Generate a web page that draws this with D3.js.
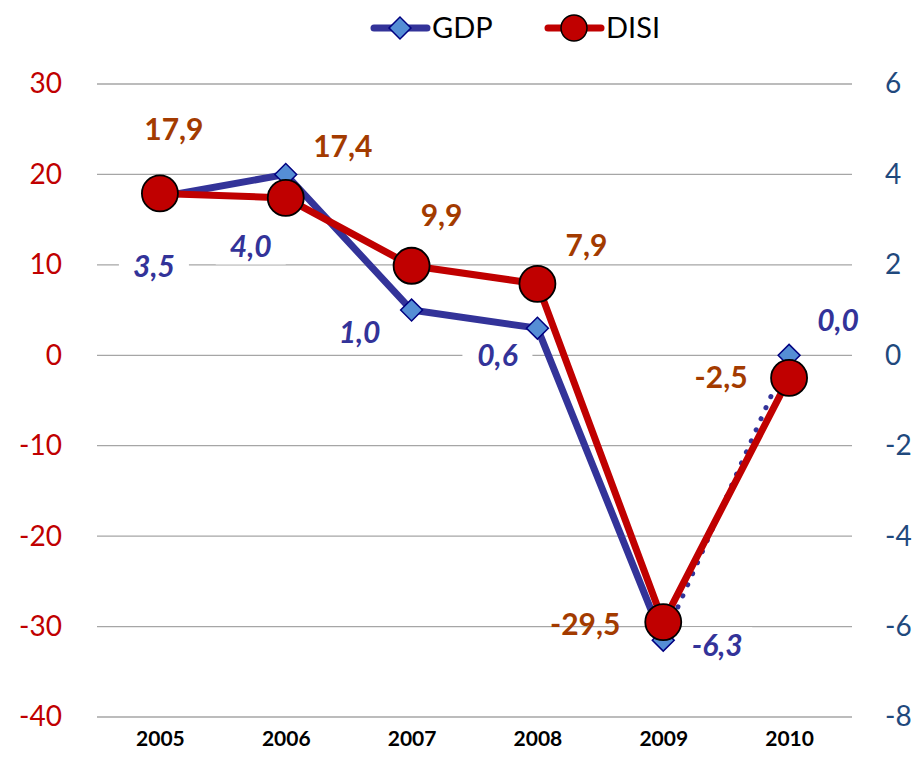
<!DOCTYPE html>
<html>
<head>
<meta charset="utf-8">
<script src="https://cdn.jsdelivr.net/npm/d3@7"></script>
<style>
  body { margin: 0; background: #fff; }
  text { font-family: Lato, "Liberation Sans", sans-serif; }
</style>
</head>
<body>
<script>
// data
var years = ["2005", "2006", "2007", "2008", "2009", "2010"];
var gdp = [3.5, 4.0, 1.0, 0.6, -6.3, 0.0];
var disi = [17.9, 17.4, 9.9, 7.9, -29.5, -2.5];
var leftTicks = [30, 20, 10, 0, -10, -20, -30, -40];
var rightTicks = [6, 4, 2, 0, -2, -4, -6, -8];

// label offsets (layout only)
var disiLabelOff = [[14, -64], [57, -51], [30, -50], [49, -38], [-78, 2], [-68, 0]];
var gdpLabelOff = [[-6, 69], [-35, 72], [-52, 22], [-40, 27], [54, 5], [49, -35]];

var width = 918, height = 770;
var margin = {top: 84, right: 66, bottom: 53, left: 97};

var svg = d3.select("body").append("svg")
  .attr("width", width)
  .attr("height", height);

var x = d3.scalePoint()
  .domain(years)
  .range([margin.left, width - margin.right])
  .padding(0.5);

var yL = d3.scaleLinear()
  .domain([-40, 30])
  .range([height - margin.bottom, margin.top]);

var yR = d3.scaleLinear()
  .domain([-8, 6])
  .range([height - margin.bottom, margin.top]);

var hyph = function(d) { return String(d); };

// gridlines
svg.append("g")
  .selectAll("line")
  .data(leftTicks)
  .enter().append("line")
    .attr("x1", margin.left)
    .attr("x2", width - margin.right)
    .attr("y1", function(d) { return yL(d); })
    .attr("y2", function(d) { return yL(d); })
    .attr("stroke", "#a6a6a6")
    .attr("stroke-width", 1.3);

// axes
var axL = svg.append("g")
  .attr("transform", "translate(" + margin.left + ",0)")
  .call(d3.axisLeft(yL).tickValues(leftTicks).tickFormat(hyph).tickSize(0).tickPadding(35));
axL.select(".domain").remove();
axL.selectAll("text")
  .style("font-family", "Lato, 'Liberation Sans', sans-serif")
  .style("font-size", "28px")
  .attr("fill", "#c00000");

var axR = svg.append("g")
  .attr("transform", "translate(" + (width - margin.right) + ",0)")
  .call(d3.axisRight(yR).tickValues(rightTicks).tickFormat(hyph).tickSize(0).tickPadding(33));
axR.select(".domain").remove();
axR.selectAll("text")
  .style("font-family", "Lato, 'Liberation Sans', sans-serif")
  .style("font-size", "28px")
  .attr("fill", "#1f497d");

var axB = svg.append("g")
  .attr("transform", "translate(0," + (height - margin.bottom) + ")")
  .call(d3.axisBottom(x).tickSize(0).tickPadding(14));
axB.select(".domain").remove();
axB.selectAll("text")
  .style("font-family", "Lato, 'Liberation Sans', sans-serif")
  .style("font-size", "21px")
  .style("font-weight", "bold")
  .attr("fill", "#000");

// GDP line
var gdpPts = years.map(function(d, i) { return [x(d), yR(gdp[i])]; });
var line = d3.line();
svg.append("path")
  .attr("d", line(gdpPts.slice(0, 5)))
  .attr("fill", "none")
  .attr("stroke", "#333399")
  .attr("stroke-width", 7)
  .attr("stroke-linejoin", "round");
svg.append("path")
  .attr("d", line(gdpPts.slice(4, 6)))
  .attr("fill", "none")
  .attr("stroke", "#333399")
  .attr("stroke-width", 5)
  .attr("stroke-linecap", "round")
  .attr("stroke-dasharray", "0.1 12");

var diamond = d3.symbol().type(d3.symbolSquare).size(240);
svg.append("g")
  .selectAll("path")
  .data(gdpPts)
  .enter().append("path")
    .attr("d", diamond)
    .attr("transform", function(d) { return "translate(" + d[0] + "," + d[1] + ") rotate(45)"; })
    .attr("fill", "#558ed5")
    .attr("stroke", "#000080")
    .attr("stroke-width", 1.5);

// DISI line
var disiPts = years.map(function(d, i) { return [x(d), yL(disi[i])]; });
svg.append("path")
  .attr("d", line(disiPts))
  .attr("fill", "none")
  .attr("stroke", "#c00000")
  .attr("stroke-width", 7)
  .attr("stroke-linejoin", "round");

svg.append("g")
  .selectAll("circle")
  .data(disiPts)
  .enter().append("circle")
    .attr("cx", function(d) { return d[0]; })
    .attr("cy", function(d) { return d[1]; })
    .attr("r", 18)
    .attr("fill", "#c00000")
    .attr("stroke", "#000")
    .attr("stroke-width", 1.8);

function fmt(v) { return v.toFixed(1).replace(".", ","); }

// GDP labels with white background
var gl = svg.append("g").selectAll("g")
  .data(gdpPts)
  .enter().append("g")
    .attr("transform", function(d, i) {
      return "translate(" + (d[0] + gdpLabelOff[i][0]) + "," + (d[1] + gdpLabelOff[i][1]) + ")";
    });
gl.append("rect")
  .attr("x", -35).attr("y", -18).attr("width", 70).attr("height", 36)
  .attr("fill", "#fff");
gl.append("text")
  .attr("text-anchor", "middle")
  .attr("dy", "0.35em")
  .style("font-size", "30px")
  .style("font-weight", "bold")
  .style("font-style", "italic")
  .attr("fill", "#333399")
  .text(function(d, i) { return fmt(gdp[i]); });

// DISI labels
svg.append("g").selectAll("text")
  .data(disiPts)
  .enter().append("text")
    .attr("x", function(d, i) { return d[0] + disiLabelOff[i][0]; })
    .attr("y", function(d, i) { return d[1] + disiLabelOff[i][1]; })
    .attr("text-anchor", "middle")
    .attr("dy", "0.35em")
    .style("font-size", "30px")
    .style("font-weight", "bold")
    .attr("fill", "#a33b00")
    .text(function(d, i) { return fmt(disi[i]); });

// legend
var lg = svg.append("g").attr("transform", "translate(0,28)");
lg.append("line").attr("x1", 374).attr("x2", 427).attr("y1", 0).attr("y2", 0)
  .attr("stroke", "#333399").attr("stroke-width", 7).attr("stroke-linecap", "round");
lg.append("path").attr("d", diamond).attr("transform", "translate(400,0) rotate(45)")
  .attr("fill", "#558ed5").attr("stroke", "#000080").attr("stroke-width", 1.5);
lg.append("text").attr("x", 432).attr("y", 0).attr("dy", "0.35em")
  .style("font-size", "29px").attr("fill", "#000").text("GDP");
lg.append("line").attr("x1", 548).attr("x2", 601).attr("y1", 0).attr("y2", 0)
  .attr("stroke", "#c00000").attr("stroke-width", 7).attr("stroke-linecap", "round");
lg.append("circle").attr("cx", 574).attr("cy", 0).attr("r", 13)
  .attr("fill", "#c00000").attr("stroke", "#000").attr("stroke-width", 1.5);
lg.append("text").attr("x", 606).attr("y", 0).attr("dy", "0.35em")
  .style("font-size", "29px").attr("fill", "#000").text("DISI");
</script>
</body>
</html>
